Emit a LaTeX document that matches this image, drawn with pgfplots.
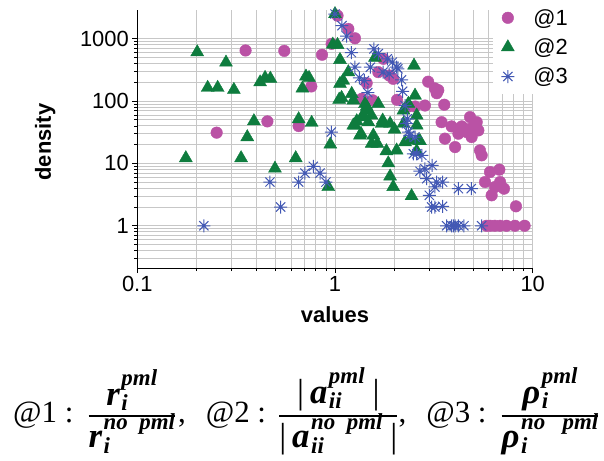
\documentclass[border=0pt]{standalone}
\usepackage{amsmath}
\usepackage{pgfplots}
\pgfplotsset{compat=1.18}
\usepackage{fontspec}
\setmainfont{Liberation Sans}
\newfontfamily\tms{Liberation Serif}
% pieces of the formula under the chart
\newcommand{\bv}[1]{\mbox{\fontsize{35}{35}\selectfont\tms\bfseries\itshape #1}}
\newcommand{\sv}[1]{\mbox{\fontsize{23}{23}\selectfont\tms\bfseries\itshape #1}}
\newcommand{\vbar}{\mbox{\fontsize{35}{35}\selectfont\tms|}}
% sub #1 at shift #3, sup #2 at shift #4, stacked
\newcommand{\scr}[4]{\mbox{\hspace{1.5bp}\smash{\rlap{\raisebox{#3}{\sv{#1}}}\raisebox{#4}{\sv{#2}}}}}
\newcommand{\fr}[2]{\genfrac{}{}{1.4bp}{0}{\raisebox{0bp}{$#1$}}{\raisebox{-8bp}{$#2$}}}

\definecolor{cmag}{RGB}{186,82,165}
\definecolor{cgrn}{RGB}{14,124,62}
\definecolor{cblu}{RGB}{66,88,180}

% eight-spoke asterisk
\pgfdeclareplotmark{ast8}{%
  \pgfpathmoveto{\pgfqpoint{-\pgfplotmarksize}{0pt}}\pgfpathlineto{\pgfqpoint{\pgfplotmarksize}{0pt}}%
  \pgfpathmoveto{\pgfqpoint{0pt}{-\pgfplotmarksize}}\pgfpathlineto{\pgfqpoint{0pt}{\pgfplotmarksize}}%
  \pgfpathmoveto{\pgfqpoint{-0.707\pgfplotmarksize}{-0.707\pgfplotmarksize}}\pgfpathlineto{\pgfqpoint{0.707\pgfplotmarksize}{0.707\pgfplotmarksize}}%
  \pgfpathmoveto{\pgfqpoint{-0.707\pgfplotmarksize}{0.707\pgfplotmarksize}}\pgfpathlineto{\pgfqpoint{0.707\pgfplotmarksize}{-0.707\pgfplotmarksize}}%
  \pgfusepathqstroke}

\begin{document}
\begin{tikzpicture}
\begin{axis}[
    at={(0,0)}, anchor=south west,
    scale only axis, width=395.4bp, height=258bp,
    xmode=log, ymode=log,
    xmin=0.1, xmax=10, ymin=0.21, ymax=2900,
    axis x line*=bottom, axis y line*=left,
    axis line style={black, line width=1bp, -},
    tick align=outside,
    major tick length=5bp, minor tick length=3bp,
    tick style={black, line width=0.8bp},
    grid=both,
    major grid style={black!22, line width=0.9bp},
    minor grid style={black!22, line width=0.9bp},
    log ticks with fixed point,
    /pgf/number format/1000 sep={},
    /pgf/number format/assume math mode=true,
    ticklabel style={font=\fontsize{22}{26}\selectfont},
    xlabel={values}, ylabel={density},
    label style={font=\fontsize{22}{26}\selectfont\bfseries},
    xlabel style={at={(axis description cs:0.5,-0.182)}, anchor=center},
    ylabel style={at={(axis description cs:-0.233,0.488)}, anchor=center},
    legend style={at={(0.9,1.039)}, anchor=north west, draw=none, fill=white,
        font=\fontsize{22}{26}\selectfont, inner xsep=8bp, inner ysep=7bp, row sep=8bp},
    legend cell align=left,
]
\addplot[only marks, mark=*, mark size=5.8bp, color=cmag, mark options={draw=cmag, fill=cmag}] coordinates {
(0.252,31.2) (0.353,650) (0.455,47.3) (0.554,640) (0.655,39.8) (0.759,172)
(0.86,555) (0.962,830) (1.03,2350) (1.168,1440) (1.262,1020) (1.365,109)
(1.446,195) (1.552,103) (1.656,292) (1.756,478) (1.88,258) (1.97,228)
(2.06,105) (2.54,82) (2.35,82) (2.85,85) (2.96,205) (3.2,160) (3.33,150) (3.27,134)
(3.57,87.5) (3.46,46) (3.6,25) (3.89,39.3) (4.05,18.3) (4.21,30) (4.29,36)
(4.38,39.3) (4.54,36) (4.63,32) (4.82,55.4) (4.91,26.5) (5.0,39.3) (5.21,46)
(5.31,33.9) (5.41,16.2) (5.52,13.5) (5.74,5.03) (6.08,7.28) (6.2,3.08)
(6.45,4.19) (6.78,7.95) (6.84,5.03) (7.16,3.94) (8.23,2.05)
(5.84,1) (6.09,1) (6.44,1) (6.84,1) (7.37,1) (8.13,1) (9.1,1)
};
\addlegendentry{\hspace{17bp}@1}
\addplot[only marks, mark=triangle*, mark size=7.5bp, color=cgrn, mark options={draw=cgrn, fill=cgrn}] coordinates {
(0.176,12.2) (0.201,610) (0.227,164) (0.255,164) (0.281,417) (0.308,152)
(0.335,12.2) (0.36,26.5) (0.389,47.8) (0.418,201) (0.443,237) (0.471,230)
(0.497,8.3) (0.633,12.2) (0.655,51.5) (0.684,160) (0.713,249) (0.739,237)
(0.762,45) (0.925,4.19) (0.947,20.2) (0.975,810) (1.0,2500) (1.03,800)
(1.06,460) (1.05,106) (1.06,190) (1.08,113) (1.10,214) (1.168,292)
(1.215,131) (1.238,103) (1.238,40.8) (1.262,40.8) (1.288,47.8) (1.338,28.2) (1.354,30)
(1.365,55.4) (1.39,59) (1.418,90) (1.446,82) (1.446,71) (1.474,46) (1.53,59) (1.533,20.8)
(1.563,28.2) (1.594,500) (1.637,20.8) (1.656,90) (1.723,43.4) (1.743,49)
(1.82,15.8) (1.86,10.1) (1.9,6.2) (1.9,43.4) (1.97,4.2) (2.05,16.2) (2.0,35)
(2.22,71) (2.22,43.4) (2.26,22) (2.35,91) (2.39,23.4) (2.44,3.0) (2.51,373)
(2.54,123) (2.59,59) (2.59,40.8) (2.59,15.8) (2.64,23.5) (2.69,22.9)
};
\addlegendentry{\hspace{17bp}@2}
\addplot[only marks, mark=ast8, mark size=6.5bp, color=cblu, mark options={line width=1bp}] coordinates {
(0.217,1) (0.469,5.03) (0.531,2.0) (0.655,5.03) (0.705,7.0) (0.777,9.0)
(0.84,7.0) (0.9,5.03) (0.958,31.9) (1.0,2500) (1.085,1630) (1.146,1100)
(1.21,600) (1.262,350) (1.33,237) (1.41,214) (1.465,137) (1.51,350)
(1.575,690) (1.656,580) (1.75,292) (1.84,478) (1.88,275) (1.95,422)
(2.05,350) (2.08,330) (2.17,220) (2.2,144) (2.26,85) (2.3,43.4) (2.32,52)
(2.35,31.9) (2.39,28.2) (2.49,14.3) (2.54,26.5) (2.59,14.3) (2.69,7.5)
(2.75,13.5) (2.85,8.2) (2.91,5.7) (3.0,3.08) (3.08,2.0) (3.1,9.3) (3.2,4.19)
(3.27,5.03) (3.5,5.03) (3.2,2.0) (3.5,2.05) (4.21,3.94) (4.89,3.94)
(3.67,1) (3.89,1) (3.97,1) (4.05,1) (4.21,1) (4.49,1) (5.52,1)
};
\addlegendentry{\hspace{17bp}@3}
\end{axis}
\node[font=\fontsize{31}{36}\selectfont\tms, inner sep=0pt, anchor=base west] at (-124.3bp,-154bp) {%
@1 :\hspace{14bp}$\fr{\bv{r}\scr{i}{pml}{-5bp}{20bp}}{\bv{r}\scr{i}{no\ \ pml}{-6bp}{18bp}}$\hspace{2bp},\hspace{20bp}%
@2 :\hspace{12bp}$\fr{\vbar\hspace{6bp}\bv{a}\scr{ii}{pml}{-5bp}{20bp}\hspace{8bp}\vbar}{\vbar\hspace{6bp}\bv{a}\scr{ii}{no\ \ pml}{-6bp}{18bp}\hspace{8bp}\vbar}$,\hspace{20bp}%
@3 :\hspace{14bp}$\fr{\bv{ρ}\scr{i}{pml}{-5bp}{20bp}}{\bv{ρ}\scr{i}{no\ \ \ pml}{-6bp}{18bp}}$};
\path[use as bounding box] (-137.3bp,-193bp) rectangle (466.7bp,268bp);
\end{tikzpicture}
\end{document}
